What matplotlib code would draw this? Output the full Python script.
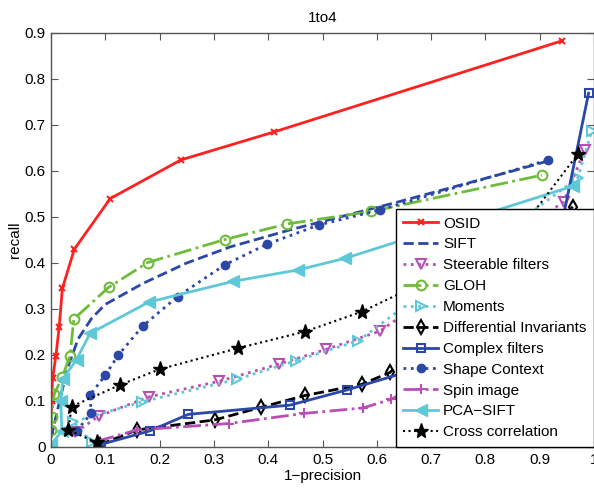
import matplotlib
matplotlib.use("Agg")
import matplotlib.pyplot as plt

plt.rcParams['font.family'] = ['Liberation Sans', 'DejaVu Sans']

title = "1to4"
xlabel = "1\u2212precision"
ylabel = "recall"
xticks = [0, 0.1, 0.2, 0.3, 0.4, 0.5, 0.6, 0.7, 0.8, 0.9, 1]
xticklabels = ["0", "0.1", "0.2", "0.3", "0.4", "0.5", "0.6", "0.7", "0.8", "0.9", "1"]
yticks = [0, 0.1, 0.2, 0.3, 0.4, 0.5, 0.6, 0.7, 0.8, 0.9]
yticklabels = ["0", "0.1", "0.2", "0.3", "0.4", "0.5", "0.6", "0.7", "0.8", "0.9"]

osid_x = [0.0, 0.001, 0.003, 0.009, 0.015, 0.021, 0.043, 0.109, 0.239, 0.411, 0.941]
osid_y = [0.035, 0.10, 0.15, 0.198, 0.26, 0.345, 0.43, 0.54, 0.624, 0.685, 0.883]

sift_x = [0.0, 0.01, 0.03, 0.05, 0.075, 0.1, 0.17, 0.25, 0.33, 0.44, 0.64, 0.85, 0.91]
sift_y = [0.02, 0.07, 0.17, 0.235, 0.28, 0.31, 0.356, 0.40, 0.435, 0.472, 0.533, 0.60, 0.62]

steer_x = [0.045, 0.088, 0.18, 0.31, 0.419, 0.506, 0.606, 0.944, 0.983]
steer_y = [0.032, 0.067, 0.109, 0.143, 0.18, 0.212, 0.252, 0.533, 0.646]

gloh_x = [0.0, 0.001, 0.006, 0.021, 0.035, 0.042, 0.106, 0.178, 0.32, 0.435, 0.59, 0.904]
gloh_y = [0.037, 0.066, 0.115, 0.153, 0.198, 0.278, 0.347, 0.401, 0.451, 0.485, 0.512, 0.591]

mom_x = [0.075, 0.041, 0.167, 0.342, 0.452, 0.566, 0.97, 0.996]
mom_y = [0.01, 0.055, 0.098, 0.147, 0.188, 0.231, 0.585, 0.688]

diff_x = [0.09, 0.158, 0.302, 0.386, 0.468, 0.572, 0.624, 0.961]
diff_y = [0.005, 0.037, 0.059, 0.086, 0.112, 0.136, 0.162, 0.522]

cplx_x = [0.09, 0.182, 0.253, 0.44, 0.545, 0.90, 0.99]
cplx_y = [0.005, 0.035, 0.071, 0.091, 0.124, 0.25, 0.769]

shape_x = [0.047, 0.074, 0.072, 0.10, 0.124, 0.169, 0.233, 0.32, 0.398, 0.494, 0.605, 0.915]
shape_y = [0.035, 0.073, 0.113, 0.156, 0.20, 0.263, 0.327, 0.396, 0.441, 0.483, 0.515, 0.624]

spin_x = [0.084, 0.158, 0.327, 0.466, 0.575, 0.627, 0.93]
spin_y = [0.012, 0.037, 0.051, 0.073, 0.085, 0.104, 0.30]

pca_x = [0.0, 0.02, 0.018, 0.022, 0.047, 0.072, 0.18, 0.335, 0.455, 0.541, 0.961]
pca_y = [0.005, 0.035, 0.10, 0.148, 0.19, 0.247, 0.315, 0.36, 0.385, 0.41, 0.567]

cross_x = [0.084, 0.032, 0.038, 0.127, 0.20, 0.345, 0.468, 0.572, 0.85, 0.971]
cross_y = [0.01, 0.037, 0.088, 0.135, 0.169, 0.215, 0.251, 0.294, 0.45, 0.638]

red = '#ff2020'
blue = '#2b47a8'
magenta = '#b84fb5'
green = '#6dbd3a'
cyan = '#5fc8d8'

fig = plt.figure(figsize=(5.94, 4.88), dpi=100)
ax = fig.add_axes([51/594, 1-447/488, 543/594, (447-33)/488])

ax.plot(osid_x, osid_y, color=red, ls='-', lw=2, marker='x', ms=5, mew=1.5, label='OSID')
ax.plot(sift_x, sift_y, color=blue, ls='--', lw=2, label='SIFT')
ax.plot(steer_x, steer_y, color=magenta, ls=':', lw=2, marker='v', ms=7, mfc='none', mew=1.5, label='Steerable filters')
ax.plot(gloh_x, gloh_y, color=green, ls='-.', lw=2, marker='o', ms=7, mfc='none', mew=1.5, label='GLOH')
ax.plot(mom_x, mom_y, color=cyan, ls=':', lw=2, marker='>', ms=7, mfc='none', mew=1.5, label='Moments')
ax.plot(diff_x, diff_y, color='black', ls='--', lw=2, marker='d', ms=7, mfc='none', mew=1.5, label='Differential Invariants')
ax.plot(cplx_x, cplx_y, color=blue, ls='-', lw=2, marker='s', ms=6, mfc='none', mew=1.5, label='Complex filters')
ax.plot(shape_x, shape_y, color=blue, ls=':', lw=2, marker='o', ms=6, label='Shape Context')
ax.plot(spin_x, spin_y, color=magenta, ls='-.', lw=2, marker='+', ms=7, mew=1.5, label='Spin image')
ax.plot(pca_x, pca_y, color=cyan, ls='-', lw=2, marker='<', ms=8, label='PCA\u2212SIFT')
ax.plot(cross_x, cross_y, color='black', ls=':', lw=1.5, marker='*', ms=11, label='Cross correlation')

ax.set_xlim(0, 1)
ax.set_ylim(0, 0.9)
ax.set_xticks(xticks)
ax.set_xticklabels(xticklabels)
ax.set_yticks(yticks)
ax.set_yticklabels(yticklabels)
ax.tick_params(direction='in', length=5, top=True, right=True, labelsize=11, color='#555555', pad=4)
for s in ax.spines.values():
    s.set_color('#555555')
    s.set_linewidth(1)
ax.set_title(title, fontsize=11, pad=8)
ax.set_xlabel(xlabel, fontsize=11, labelpad=2)
ax.set_ylabel(ylabel, fontsize=11, labelpad=2)

leg = ax.legend(loc='lower right', fontsize=11, frameon=True, fancybox=False,
                framealpha=1, edgecolor='black', handlelength=2.3, handletextpad=0.3,
                borderaxespad=0, labelspacing=0.45, borderpad=0.5)
leg.get_frame().set_linewidth(1)

fig.savefig('out.png', dpi=100)
